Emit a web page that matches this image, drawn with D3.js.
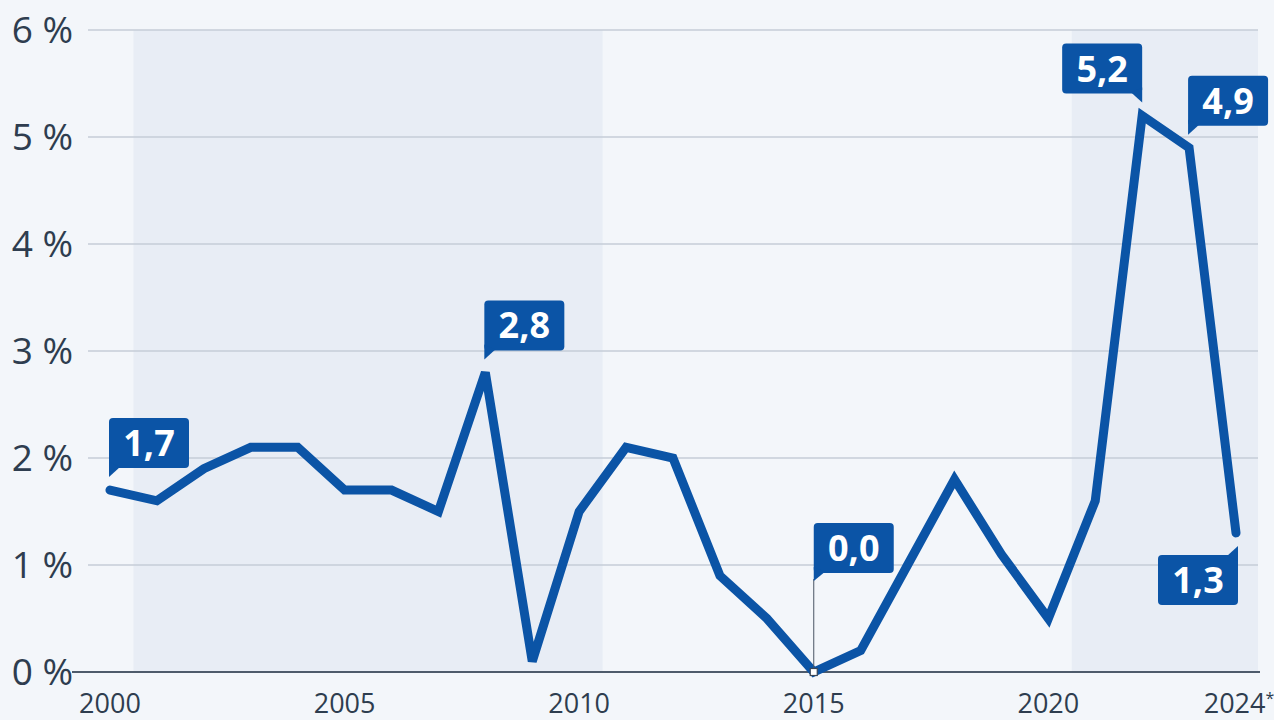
<!DOCTYPE html>
<html>
<head>
<meta charset="utf-8">
<script src="https://cdn.jsdelivr.net/npm/d3@7"></script>
<style>
  html, body { margin: 0; padding: 0; background: #f3f6fa; }
  svg { display: block; }
  .tick-y { font-family: "Open Sans", sans-serif; font-size: 37px; fill: #2e3d4f; }
  .tick-x { font-family: "Open Sans", sans-serif; font-size: 27px; fill: #2e3d4f; }
  .lbl { font-family: "Open Sans", sans-serif; font-weight: 700; font-size: 36px; fill: #fff; }
</style>
</head>
<body>
<svg id="chart"></svg>
<script>
var years = [2000, 2001, 2002, 2003, 2004, 2005, 2006, 2007, 2008, 2009, 2010, 2011,
             2012, 2013, 2014, 2015, 2016, 2017, 2018, 2019, 2020, 2021, 2022, 2023, 2024];
var rates = [1.7, 1.6, 1.9, 2.1, 2.1, 1.7, 1.7, 1.5, 2.8, 0.1, 1.5, 2.1,
             2.0, 0.9, 0.5, 0.0, 0.2, 1.0, 1.8, 1.1, 0.5, 1.6, 5.2, 4.9, 1.3];
var yTicks = [0, 1, 2, 3, 4, 5, 6];
var xTicks = [2000, 2005, 2010, 2015, 2020, 2024];
var xTickNotes = ["", "", "", "", "", "*"];
var bands = [[2000.5, 2010.5], [2020.5, 2024.5]];
var labelYears = [2000, 2008, 2015, 2022, 2023, 2024];
var labelSides = ["right", "right", "leader", "left", "right", "below"];

var width = 1274, height = 720;
var blue = "#0b54a6";
var boxW = 80, boxH = 50;

var svg = d3.select("#chart").attr("width", width).attr("height", height);

var x = d3.scaleLinear().domain([2000, 2024]).range([110, 1236]);
var y = d3.scaleLinear().domain([0, 6]).range([672, 30]);

svg.append("rect").attr("width", width).attr("height", height).attr("fill", "#f3f6fa");

svg.selectAll("rect.band")
    .data(bands)
    .enter().append("rect")
        .attr("class", "band")
        .attr("x", function(d) { return x(d[0]); })
        .attr("width", function(d) { return Math.min(x(d[1]), 1258) - x(d[0]); })
        .attr("y", y(6))
        .attr("height", y(0) - y(6))
        .attr("fill", "#e8edf5");

// gridlines
svg.selectAll("line.grid")
    .data(yTicks.filter(function(d) { return d > 0; }))
    .enter().append("line")
        .attr("class", "grid")
        .attr("x1", 88).attr("x2", 1258)
        .attr("y1", y).attr("y2", y)
        .attr("stroke", "#c6cdd7")
        .attr("stroke-width", 1.5);

svg.append("line")
    .attr("x1", 72).attr("x2", 1260)
    .attr("y1", y(0)).attr("y2", y(0))
    .attr("stroke", "#4e5b6b")
    .attr("stroke-width", 2);

svg.selectAll("text.tick-y")
    .data(yTicks)
    .enter().append("text")
        .attr("class", "tick-y")
        .attr("x", 73)
        .attr("y", function(d) { return y(d) + 13; })
        .attr("text-anchor", "end")
        .text(function(d) { return d + " %"; });

var xLab = svg.selectAll("text.tick-x")
    .data(xTicks)
    .enter().append("text")
        .attr("class", "tick-x")
        .attr("x", function(d, i) { return x(d) + (xTickNotes[i] ? 3 : 0); })
        .attr("y", 713)
        .attr("text-anchor", "middle")
        .text(function(d) { return d; });

xLab.append("tspan")
    .attr("dy", -9)
    .style("font-size", "16px")
    .text(function(d, i) { return xTickNotes[i]; });

// line
var line = d3.line()
    .x(function(d, i) { return x(years[i]); })
    .y(function(d) { return y(d); });

svg.append("path")
    .datum(rates)
    .attr("d", line)
    .attr("fill", "none")
    .attr("stroke", blue)
    .attr("stroke-width", 9)
    .attr("stroke-linejoin", "miter")
    .attr("stroke-linecap", "round");

// labels
var labelData = labelYears.map(function(yr, i) {
    var idx = years.indexOf(yr);
    return { year: yr, value: rates[idx], side: labelSides[i] };
});

var fmt = function(v) { return v.toFixed(1).replace(".", ","); };

labelData.forEach(function(d) {
    var px = x(d.year), py = y(d.value);
    var bx, by, tail;
    if (d.side === "right") {
        bx = px - 1; by = py - 22 - boxH;
        tail = [[bx, by + boxH - 6], [bx, by + boxH + 9], [bx + 11, by + boxH - 1]];
    } else if (d.side === "left") {
        bx = px - boxW; by = py - 22 - boxH;
        tail = [[bx + boxW, by + boxH - 6], [bx + boxW, by + boxH + 9], [bx + boxW - 11, by + boxH - 1]];
    } else if (d.side === "below") {
        bx = px + 2 - boxW; by = py + 22;
        tail = [[bx + boxW, by + 6], [bx + boxW, by - 9], [bx + boxW - 11, by + 1]];
    } else {
        bx = px; by = py - 99 - boxH;
        tail = [[bx, by + boxH - 6], [bx, by + boxH + 8], [bx + 11, by + boxH - 1]];
        svg.append("line")
            .attr("x1", px).attr("x2", px)
            .attr("y1", by + boxH + 6).attr("y2", py)
            .attr("stroke", "#4a5563")
            .attr("stroke-width", 1);
        svg.append("rect")
            .attr("x", px - 3.5).attr("y", py - 3.5)
            .attr("width", 7).attr("height", 7)
            .attr("fill", "#fff")
            .attr("stroke", "#3a4656")
            .attr("stroke-width", 1.2);
    }
    var g = svg.append("g");
    g.append("rect")
        .attr("x", bx).attr("y", by)
        .attr("width", boxW).attr("height", boxH)
        .attr("rx", 4)
        .attr("fill", blue);
    g.append("path")
        .attr("d", d3.line()(tail) + "Z")
        .attr("fill", blue);
    g.append("text")
        .attr("class", "lbl")
        .attr("x", bx + boxW / 2)
        .attr("y", by + boxH / 2 + 13)
        .attr("text-anchor", "middle")
        .text(fmt(d.value));
});
</script>
</body>
</html>
